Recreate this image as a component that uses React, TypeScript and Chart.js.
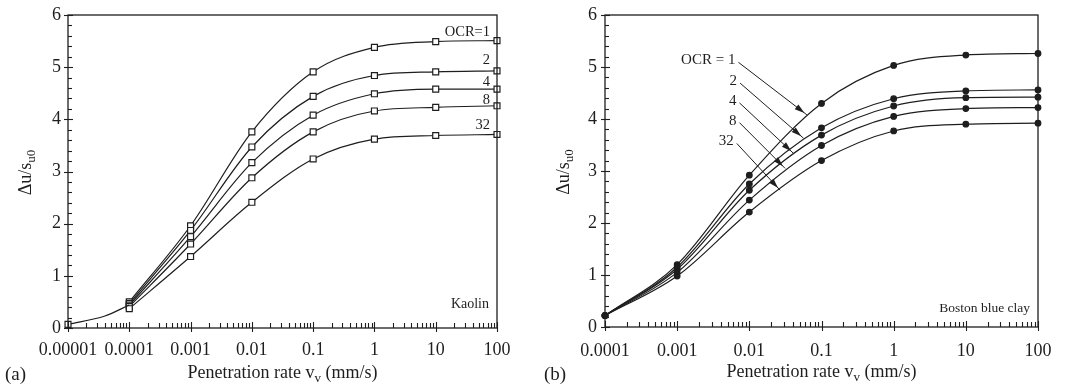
import React, { useEffect, useRef } from "react";
import { Chart, registerables } from "chart.js";

Chart.register(...registerables);

// ---------- data ----------
const xTickValuesA = [0.00001, 0.0001, 0.001, 0.01, 0.1, 1, 10, 100];
const xTickLabelsA = ["0.00001", "0.0001", "0.001", "0.01", "0.1", "1", "10", "100"];
const xTickValuesB = [0.0001, 0.001, 0.01, 0.1, 1, 10, 100];
const xTickLabelsB = ["0.0001", "0.001", "0.01", "0.1", "1", "10", "100"];
const yTickValues = [0, 1, 2, 3, 4, 5, 6];
const yTickLabels = ["0", "1", "2", "3", "4", "5", "6"];

const rates = [0.0001, 0.001, 0.01, 0.1, 1, 10, 100];
const ocrNames = ["OCR=1", "2", "4", "8", "32"];
const ocrNamesB = ["OCR = 1", "2", "4", "8", "32"];

// (a) Kaolin
const kaolinOCR1 = [0.5, 1.96, 3.76, 4.91, 5.38, 5.49, 5.51];
const kaolinOCR2 = [0.47, 1.87, 3.47, 4.44, 4.84, 4.91, 4.93];
const kaolinOCR4 = [0.44, 1.75, 3.17, 4.08, 4.49, 4.58, 4.58];
const kaolinOCR8 = [0.41, 1.61, 2.88, 3.76, 4.16, 4.23, 4.26];
const kaolinOCR32 = [0.37, 1.37, 2.41, 3.24, 3.62, 3.69, 3.71];
const kaolinInitialRates = [0.00001, 0.00004, 0.0001];
const kaolinInitialValues = [0.07, 0.23, 0.44];
const kaolinLabelY = [5.68, 5.14, 4.71, 4.36, 3.89];

// (b) Boston blue clay
const bbcOCR1 = [0.22, 1.2, 2.92, 4.3, 5.03, 5.23, 5.26];
const bbcOCR2 = [0.22, 1.15, 2.75, 3.83, 4.39, 4.54, 4.56];
const bbcOCR4 = [0.22, 1.11, 2.63, 3.69, 4.25, 4.41, 4.42];
const bbcOCR8 = [0.22, 1.05, 2.44, 3.49, 4.05, 4.2, 4.22];
const bbcOCR32 = [0.22, 0.98, 2.21, 3.2, 3.77, 3.9, 3.92];
const arrowStartX = [0.00706, 0.00745, 0.0073, 0.0073, 0.0067];
const arrowStartY = [5.09, 4.69, 4.31, 3.93, 3.53];
const arrowEndX = [0.0627, 0.0564, 0.0409, 0.0313, 0.0267];
const arrowEndY = [4.08, 3.63, 3.34, 3.05, 2.63];

const FONT = "'Liberation Serif', 'Times New Roman', serif";
const INK = "#1e1e1e";

function pts(xs: number[], ys: number[]) {
  return xs.map((x, i) => ({ x, y: ys[i] }));
}

type PanelCfg = {
  tag: string;
  tagX: number;
  clay: string;
  clayFont: number;
  clayOffset: number;
  clayY: number;
  labelFont: number;
  yTitleOffset: number;
  xTickValues: number[];
  xTickLabels: string[];
  xMin: number;
  labels: string[];
  labelY?: number[];
  arrows?: boolean;
};

function makePlugin(cfg: PanelCfg) {
  return {
    id: "decor" + cfg.tag.replace(/[()]/g, ""),
    afterDraw(chart: any) {
      const ctx = chart.ctx as CanvasRenderingContext2D;
      const { left, right, top, bottom } = chart.chartArea;
      const xs = chart.scales.x;
      const ys = chart.scales.y;
      ctx.save();
      ctx.strokeStyle = INK;
      ctx.fillStyle = INK;
      // frame
      ctx.lineWidth = 1.3;
      ctx.strokeRect(left, top, right - left, bottom - top);
      // y ticks
      ctx.lineWidth = 1.1;
      for (let k = 0; k <= 30; k++) {
        const v = k * 0.2;
        const py = Math.round(ys.getPixelForValue(v)) + 0.5;
        ctx.beginPath();
        if (k % 5 === 0) {
          ctx.moveTo(left - 4, py);
          ctx.lineTo(left + 5, py);
        } else {
          ctx.moveTo(left, py);
          ctx.lineTo(left + 4, py);
        }
        ctx.stroke();
      }
      // x ticks
      for (let e = Math.round(Math.log10(cfg.xMin)); e <= 2; e++) {
        const base = Math.pow(10, e);
        const px = Math.round(xs.getPixelForValue(base)) + 0.5;
        ctx.beginPath();
        ctx.moveTo(px, bottom + 4);
        ctx.lineTo(px, bottom - 6);
        ctx.stroke();
        if (e < 2) {
          for (let m = 2; m <= 9; m++) {
            const qx = Math.round(xs.getPixelForValue(m * base)) + 0.5;
            ctx.beginPath();
            ctx.moveTo(qx, bottom);
            ctx.lineTo(qx, bottom - 5);
            ctx.stroke();
          }
        }
      }
      // x title
      const cx = (left + right) / 2;
      const by = bottom + 50;
      const big = "18px " + FONT;
      const small = "13px " + FONT;
      ctx.font = big;
      const p1 = "Penetration rate v";
      const p3 = " (mm/s)";
      const w1 = ctx.measureText(p1).width;
      const w3 = ctx.measureText(p3).width;
      ctx.font = small;
      const w2 = ctx.measureText("v").width;
      const sx = cx - (w1 + w2 + w3) / 2;
      ctx.textBaseline = "alphabetic";
      ctx.textAlign = "left";
      ctx.font = big;
      ctx.fillText(p1, sx, by);
      ctx.font = small;
      ctx.fillText("v", sx + w1, by + 4);
      ctx.font = big;
      ctx.fillText(p3, sx + w1 + w2, by);
      // y title
      ctx.save();
      const tx = left - cfg.yTitleOffset;
      const ty = (top + bottom) / 2 + 1;
      ctx.translate(tx, ty);
      ctx.rotate(-Math.PI / 2);
      ctx.font = big;
      const q1 = "\u0394u/s";
      const qw1 = ctx.measureText(q1).width;
      ctx.font = small;
      const qw2 = ctx.measureText("u0").width;
      const s0 = -(qw1 + qw2) / 2;
      ctx.font = big;
      ctx.fillText(q1, s0, 0);
      ctx.font = small;
      ctx.fillText("u0", s0 + qw1, 4);
      ctx.restore();
      // panel tag
      ctx.font = "19px " + FONT;
      ctx.textAlign = "left";
      ctx.fillText(cfg.tag, cfg.tagX, 380);
      // clay name
      ctx.font = cfg.clayFont + "px " + FONT;
      ctx.textAlign = "right";
      ctx.textBaseline = "middle";
      ctx.fillText(cfg.clay, xs.getPixelForValue(100) - cfg.clayOffset, ys.getPixelForValue(cfg.clayY));
      // OCR labels
      ctx.font = cfg.labelFont + "px " + FONT;
      if (cfg.labelY) {
        cfg.labels.forEach((t, i) => {
          ctx.fillText(t, xs.getPixelForValue(100) - 7, ys.getPixelForValue(cfg.labelY![i]));
        });
      }
      if (cfg.arrows) {
        ctx.lineWidth = 1;
        cfg.labels.forEach((t, i) => {
          const x0 = xs.getPixelForValue(arrowStartX[i]);
          const y0 = ys.getPixelForValue(arrowStartY[i]);
          const x1 = xs.getPixelForValue(arrowEndX[i]);
          const y1 = ys.getPixelForValue(arrowEndY[i]);
          ctx.fillText(t, x0 - 3, y0 - 2);
          ctx.beginPath();
          ctx.moveTo(x0, y0);
          ctx.lineTo(x1, y1);
          ctx.stroke();
          const ang = Math.atan2(y1 - y0, x1 - x0);
          const tipX = x1 - 3 * Math.cos(ang);
          const tipY = y1 - 3 * Math.sin(ang);
          const L = 10;
          const W = 3;
          const bx = tipX - L * Math.cos(ang);
          const byy = tipY - L * Math.sin(ang);
          ctx.beginPath();
          ctx.moveTo(tipX, tipY);
          ctx.lineTo(bx + W * Math.sin(ang), byy - W * Math.cos(ang));
          ctx.lineTo(bx - W * Math.sin(ang), byy + W * Math.cos(ang));
          ctx.closePath();
          ctx.fill();
        });
      }
      ctx.restore();
    },
  };
}

function lineDS(data: any[], pointStyle: string, radius: any, filled: boolean) {
  return {
    data,
    borderColor: INK,
    borderWidth: 1.2,
    pointStyle,
    pointRadius: radius,
    pointBorderWidth: 1.2,
    pointBorderColor: INK,
    pointBackgroundColor: filled ? INK : "#ffffff",
    cubicInterpolationMode: "monotone",
    fill: false,
    clip: false,
  };
}

function makeConfig(datasets: any[], cfg: PanelCfg, yAxisW: number, xAxisH: number, padRight: number, xPad: number, yPad: number) {
  return {
    type: "line",
    data: { datasets },
    options: {
      animation: false,
      responsive: false,
      devicePixelRatio: 1,
      layout: { padding: { left: 0, right: padRight, top: 15, bottom: 0 } },
      plugins: { legend: { display: false }, tooltip: { enabled: false } },
      scales: {
        x: {
          type: "logarithmic",
          min: cfg.xMin,
          max: 100,
          grid: { display: false, drawTicks: false },
          border: { display: false },
          afterBuildTicks: (s: any) => {
            s.ticks = cfg.xTickValues.map((v) => ({ value: v }));
          },
          ticks: {
            autoSkip: false,
            maxRotation: 0,
            padding: xPad,
            color: INK,
            font: { family: FONT, size: 18 },
            callback: (_v: any, i: number) => cfg.xTickLabels[i],
          },
          afterFit: (s: any) => {
            s.height = xAxisH;
            s.paddingLeft = 0;
            s.paddingRight = 0;
          },
        },
        y: {
          type: "linear",
          min: 0,
          max: 6,
          grid: { display: false, drawTicks: false },
          border: { display: false },
          afterBuildTicks: (s: any) => {
            s.ticks = yTickValues.map((v) => ({ value: v }));
          },
          ticks: {
            padding: yPad,
            color: INK,
            font: { family: FONT, size: 18 },
            callback: (_v: any, i: number) => yTickLabels[i],
          },
          afterFit: (s: any) => {
            s.width = yAxisW;
            s.paddingTop = 0;
            s.paddingBottom = 0;
          },
        },
      },
    },
    plugins: [makePlugin(cfg)],
  };
}

export default function App() {
  const refA = useRef<HTMLCanvasElement>(null);
  const refB = useRef<HTMLCanvasElement>(null);

  useEffect(() => {
    const cfgA: PanelCfg = {
      tag: "(a)",
      tagX: 5,
      clay: "Kaolin",
      clayFont: 14,
      clayOffset: 8,
      clayY: 0.45,
      labelFont: 14.5,
      yTitleOffset: 37,
      xTickValues: xTickValuesA,
      xTickLabels: xTickLabelsA,
      xMin: 0.00001,
      labels: ocrNames,
      labelY: kaolinLabelY,
    };
    const cfgB: PanelCfg = {
      tag: "(b)",
      tagX: 9,
      clay: "Boston blue clay",
      clayFont: 13.5,
      clayOffset: 8,
      clayY: 0.35,
      labelFont: 15,
      yTitleOffset: 36,
      xTickValues: xTickValuesB,
      xTickLabels: xTickLabelsB,
      xMin: 0.0001,
      labels: ocrNamesB,
      arrows: true,
    };
    const sq = 4.2;
    const dsA = [
      lineDS(pts(kaolinInitialRates, kaolinInitialValues), "rect", [sq, 0, 0], false),
      lineDS(pts(rates, kaolinOCR32), "rect", sq, false),
      lineDS(pts(rates, kaolinOCR8), "rect", sq, false),
      lineDS(pts(rates, kaolinOCR4), "rect", sq, false),
      lineDS(pts(rates, kaolinOCR2), "rect", sq, false),
      lineDS(pts(rates, kaolinOCR1), "rect", sq, false),
    ];
    const dot = 2.8;
    const dsB = [
      lineDS(pts(rates, bbcOCR32), "circle", dot, true),
      lineDS(pts(rates, bbcOCR8), "circle", dot, true),
      lineDS(pts(rates, bbcOCR4), "circle", dot, true),
      lineDS(pts(rates, bbcOCR2), "circle", dot, true),
      lineDS(pts(rates, bbcOCR1), "circle", dot, true),
    ];
    const chA = new Chart(refA.current as any, makeConfig(dsA, cfgA, 68, 57, 38, 11, 7) as any);
    const chB = new Chart(refB.current as any, makeConfig(dsB, cfgB, 70, 58, 32, 13, 8) as any);
    return () => {
      chA.destroy();
      chB.destroy();
    };
  }, []);

  return (
    <div style={{ position: "absolute", left: 0, top: 0, width: 1070, height: 385, background: "#fff" }}>
      <canvas ref={refA} width={535} height={385} style={{ position: "absolute", left: 0, top: 0, width: 535, height: 385 }} />
      <canvas ref={refB} width={535} height={385} style={{ position: "absolute", left: 535, top: 0, width: 535, height: 385 }} />
    </div>
  );
}
